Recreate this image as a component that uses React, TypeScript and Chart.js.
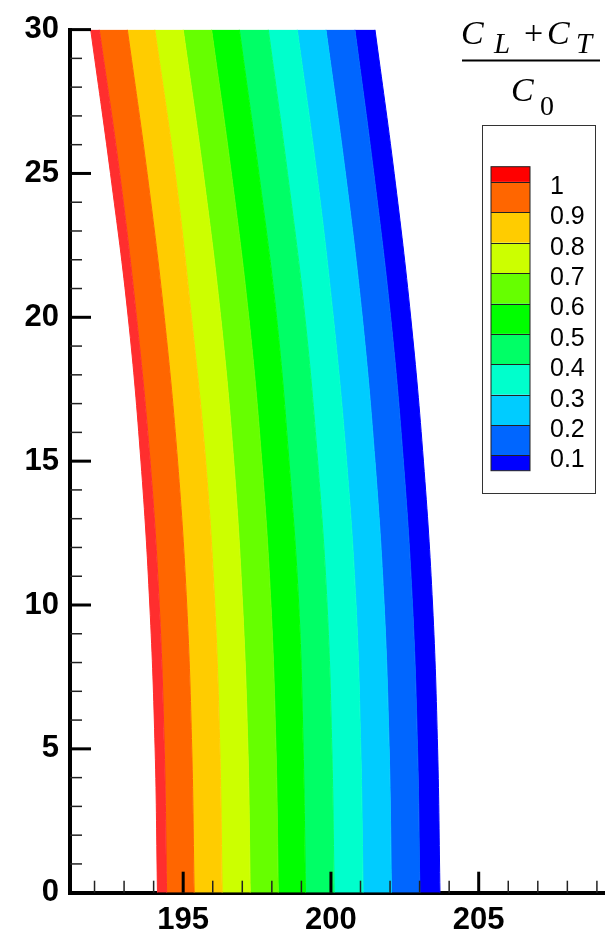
import React, { useEffect, useRef } from 'react';
import { Chart, registerables } from 'chart.js';

Chart.register(...registerables);

// y positions (axis units) at which the contour boundaries were read
const yLevels = [0, 5, 10, 15, 20, 25, 30];

// x position of each contour boundary (left edge of red ... right edge of blue) at each y level
const edgesAtY0 = [194.13, 194.44, 195.37, 196.32, 197.27, 198.22, 199.14, 200.11, 201.09, 202.05, 203.01, 203.69];
const edgesAtY5 = [194.05, 194.36, 195.29, 196.24, 197.19, 198.14, 199.06, 200.03, 201.01, 201.97, 202.93, 203.61];
const edgesAtY10 = [193.87, 194.19, 195.12, 196.07, 197.01, 197.97, 198.91, 199.87, 200.85, 201.8, 202.76, 203.44];
const edgesAtY15 = [193.57, 193.88, 194.81, 195.76, 196.71, 197.66, 198.58, 199.55, 200.53, 201.49, 202.45, 203.13];
const edgesAtY20 = [193.14, 193.42, 194.36, 195.28, 196.27, 197.22, 198.16, 199.12, 200.08, 201.06, 202.02, 202.7];
const edgesAtY25 = [192.54, 192.85, 193.78, 194.73, 195.68, 196.63, 197.56, 198.53, 199.52, 200.49, 201.45, 202.14];
const edgesAtY30 = [191.87, 192.16, 193.11, 194.04, 195.0, 195.96, 196.9, 197.88, 198.86, 199.83, 200.81, 201.49];
const edgeRows = [edgesAtY0, edgesAtY5, edgesAtY10, edgesAtY15, edgesAtY20, edgesAtY25, edgesAtY30];

// fill colours of the bands, left (high) to right (low)
const bandColors = ['#FF2E2E', '#FF6600', '#FFCC00', '#CCFF00', '#66FF00', '#00FF00', '#00FF66', '#00FFCC', '#00CCFF', '#0066FF', '#0000FF'];
const legendColors = ['#FF0000', '#FF6600', '#FFCC00', '#CCFF00', '#66FF00', '#00FF00', '#00FF66', '#00FFCC', '#00CCFF', '#0066FF', '#0000FF'];
const legendLabels = ['1', '0.9', '0.8', '0.7', '0.6', '0.5', '0.4', '0.3', '0.2', '0.1'];

const xRange = [191.17, 209.24];
const yRange = [0, 30];
const xMajorTicks = [195, 200, 205];
const xMinorTicks = [192, 193, 194, 196, 197, 198, 199, 201, 202, 203, 204, 206, 207, 208, 209];
const yMajorTicks = [0, 5, 10, 15, 20, 25, 30];
const yMinorTicks = [1, 2, 3, 4, 6, 7, 8, 9, 11, 12, 13, 14, 16, 17, 18, 19, 21, 22, 23, 24, 26, 27, 28, 29];

const SANS = '"Liberation Sans", Arial, Helvetica, sans-serif';
const SERIF = '"Liberation Serif", "Times New Roman", Times, serif';

const decorPlugin = {
  id: 'decor',
  afterDraw(chart: any) {
    const ctx: CanvasRenderingContext2D = chart.ctx;
    const xs = chart.scales.x;
    const ys = chart.scales.y;
    const area = chart.chartArea;
    ctx.save();
    ctx.lineCap = 'butt';
    const seg = (x1: number, y1: number, x2: number, y2: number) => {
      ctx.beginPath();
      ctx.moveTo(x1, y1);
      ctx.lineTo(x2, y2);
      ctx.stroke();
    };
    // y ticks (inside)
    const ax = area.left;
    ctx.strokeStyle = '#222';
    ctx.lineWidth = 1.5;
    yMinorTicks.forEach((v) => {
      const p = ys.getPixelForValue(v);
      seg(ax, p, ax + 12, p);
    });
    ctx.strokeStyle = '#000';
    ctx.lineWidth = 3;
    yMajorTicks.forEach((v) => {
      const p = ys.getPixelForValue(v);
      seg(ax, p, ax + 21, p);
    });
    // x ticks (inside)
    const ay = area.bottom;
    ctx.strokeStyle = '#222';
    ctx.lineWidth = 1.5;
    xMinorTicks.forEach((v) => {
      const p = xs.getPixelForValue(v);
      seg(p, ay, p, ay - 12);
    });
    ctx.strokeStyle = '#000';
    ctx.lineWidth = 3;
    xMajorTicks.forEach((v) => {
      const p = xs.getPixelForValue(v);
      seg(p, ay, p, ay - 21);
    });

    // legend box
    ctx.fillStyle = '#fff';
    ctx.fillRect(482.5, 125.5, 113, 368);
    ctx.strokeStyle = '#333';
    ctx.lineWidth = 1;
    ctx.strokeRect(482.5, 125.5, 113, 368);
    // colour bar
    const bx = 491;
    const bw = 39;
    const top = 166.7;
    const step = 30.4;
    const half = 15.2;
    const n = legendColors.length;
    for (let i = 0; i < n; i++) {
      const y0 = i === 0 ? top : top + half + (i - 1) * step;
      const h = i === 0 || i === n - 1 ? half : step;
      ctx.fillStyle = legendColors[i];
      ctx.fillRect(bx, y0, bw, h);
    }
    ctx.strokeStyle = '#222';
    ctx.lineWidth = 1;
    const total = half * 2 + step * (n - 2);
    ctx.strokeRect(bx, top, bw, total);
    for (let i = 0; i < n - 1; i++) {
      const yb = Math.round(top + half + i * step) + 0.5;
      seg(bx, yb, bx + bw, yb);
    }
    ctx.fillStyle = '#000';
    ctx.font = `25px ${SANS}`;
    ctx.textAlign = 'left';
    ctx.textBaseline = 'middle';
    legendLabels.forEach((t, i) => {
      ctx.fillText(t, 550, top + half + i * step + 5);
    });

    // title formula (C_L + C_T) / C_0
    ctx.textBaseline = 'alphabetic';
    ctx.fillStyle = '#000';
    ctx.font = `italic 34px ${SERIF}`;
    ctx.fillText('C', 461, 44);
    ctx.font = `italic 29px ${SERIF}`;
    ctx.fillText('L', 494, 53);
    ctx.font = `34px ${SERIF}`;
    ctx.fillText('+', 524, 44);
    ctx.font = `italic 34px ${SERIF}`;
    ctx.fillText('C', 547, 44);
    ctx.font = `italic 29px ${SERIF}`;
    ctx.fillText('T', 576, 53);
    ctx.strokeStyle = '#000';
    ctx.lineWidth = 2;
    seg(462, 60.5, 600, 60.5);
    ctx.font = `italic 34px ${SERIF}`;
    ctx.fillText('C', 511, 101);
    ctx.font = `28px ${SERIF}`;
    ctx.fillText('0', 540, 115);
    ctx.restore();
  },
};

export default function App() {
  const ref = useRef<HTMLCanvasElement | null>(null);
  useEffect(() => {
    if (!ref.current) return;
    const nEdges = edgeRows[0].length;
    const datasets = [];
    for (let j = 0; j < nEdges; j++) {
      const c = bandColors[Math.max(j - 1, 0)];
      datasets.push({
        data: yLevels.map((y, i) => ({ x: edgeRows[i][j], y })),
        fill: j === 0 ? false : '-1',
        backgroundColor: c,
        borderColor: c,
        borderWidth: 1,
        pointRadius: 0,
        tension: 0.4,
      });
    }
    const tickFont = { family: SANS, size: 31, weight: 'bold' as const };
    const chart = new Chart(ref.current, {
      type: 'line',
      data: { datasets } as any,
      options: {
        indexAxis: 'y',
        animation: false,
        responsive: false,
        devicePixelRatio: 1,
        layout: { padding: { top: 20, right: 6, left: 0, bottom: 0 } },
        plugins: { legend: { display: false }, tooltip: { enabled: false } },
        scales: {
          x: {
            type: 'linear',
            position: 'bottom',
            min: xRange[0],
            max: xRange[1],
            z: 1,
            grid: { display: false, drawTicks: false },
            border: { display: true, width: 4, color: '#000' },
            ticks: { padding: 9, color: '#000', font: tickFont, maxRotation: 0, autoSkip: false },
            afterBuildTicks: (s: any) => {
              s.ticks = xMajorTicks.map((v) => ({ value: v }));
            },
            afterFit: (s: any) => {
              s.height = 45.3;
            },
          },
          y: {
            type: 'linear',
            position: 'left',
            min: yRange[0],
            max: yRange[1],
            z: 1,
            grid: { display: false, drawTicks: false },
            border: { display: true, width: 4, color: '#000' },
            ticks: { padding: 11, color: '#000', font: tickFont, autoSkip: false },
            afterBuildTicks: (s: any) => {
              s.ticks = yMajorTicks.map((v) => ({ value: v }));
            },
            afterFit: (s: any) => {
              s.width = 70;
            },
          },
        },
      } as any,
      plugins: [decorPlugin],
    });
    return () => chart.destroy();
  }, []);
  return (
    <div style={{ position: 'fixed', left: 0, top: 0, width: 610, height: 938, background: '#fff' }}>
      <canvas ref={ref} width={610} height={938} style={{ display: 'block' }} />
    </div>
  );
}
